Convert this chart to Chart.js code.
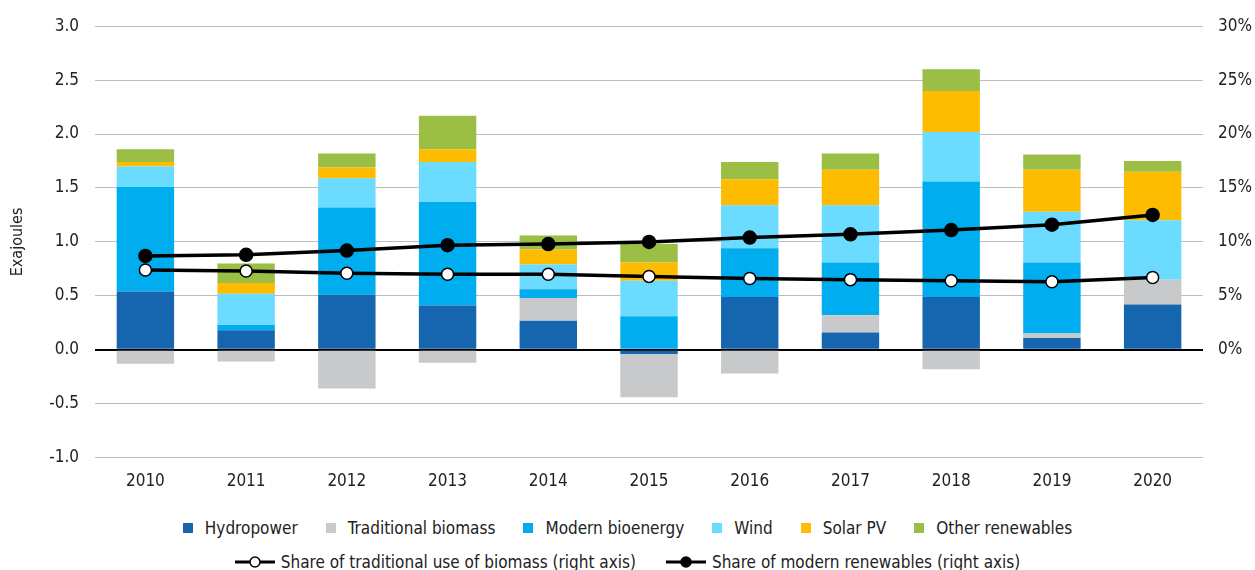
<!DOCTYPE html>
<html>
<head>
<meta charset="utf-8">
<script src="https://cdn.jsdelivr.net/npm/chart.js@4"></script>
<style>
  body { margin: 0; background: #fff; font-family: "DejaVu Sans Condensed", sans-serif; }
  #wrap { position: relative; width: 1255px; height: 570px; }
  #chart { position: absolute; left: 0; top: 0; }
  .legend { position: absolute; left: 0; width: 1255px; display: flex; justify-content: center; align-items: center; font-size: 17px; color: #222; }
  .row1 { top: 518px; gap: 28px; }
  .row2 { top: 552px; gap: 30px; }
  .item { display: flex; align-items: center; white-space: nowrap; }
  .box { width: 10px; height: 10px; margin-right: 12px; }
  .item svg { margin-right: 6px; }
</style>
</head>
<body>
<div id="wrap">
  <canvas id="chart" width="1255" height="506"></canvas>
  <div class="legend row1" id="legendBars"></div>
  <div class="legend row2" id="legendLines"></div>
</div>
<script>
const years = ['2010', '2011', '2012', '2013', '2014', '2015', '2016', '2017', '2018', '2019', '2020'];

// annual change, EJ
const hydropower   = [0.54, 0.18, 0.51, 0.41, 0.27, -0.04, 0.49, 0.16, 0.49, 0.11, 0.42];
const tradBiomass  = [-0.13, -0.11, -0.36, -0.12, 0.21, -0.40, -0.22, 0.16, -0.18, 0.04, 0.23];
const modernBio    = [0.97, 0.05, 0.81, 0.96, 0.08, 0.31, 0.45, 0.49, 1.07, 0.66, -0.01];
const wind         = [0.19, 0.29, 0.27, 0.37, 0.23, 0.33, 0.40, 0.53, 0.46, 0.47, 0.55];
const solarPV      = [0.04, 0.10, 0.10, 0.12, 0.14, 0.17, 0.24, 0.33, 0.38, 0.39, 0.45];
const otherRenew   = [0.12, 0.18, 0.13, 0.31, 0.13, 0.17, 0.16, 0.15, 0.20, 0.14, 0.10];

// shares, %
const shareTraditional = [7.4, 7.3, 7.1, 7.0, 7.0, 6.8, 6.6, 6.5, 6.4, 6.3, 6.7];
const shareModern      = [8.7, 8.8, 9.2, 9.7, 9.8, 10.0, 10.4, 10.7, 11.1, 11.6, 12.5];

const leftTicks = [-1, -0.5, 0, 0.5, 1, 1.5, 2, 2.5, 3];
const rightTicks = [0, 5, 10, 15, 20, 25, 30];

const font = "'DejaVu Sans Condensed', sans-serif";

const barSeries = [
  { label: 'Hydropower', data: hydropower, color: '#1565AF' },
  { label: 'Traditional biomass', data: tradBiomass, color: '#C8C9CB' },
  { label: 'Modern bioenergy', data: modernBio, color: '#00ADEE' },
  { label: 'Wind', data: wind, color: '#6BDBFF' },
  { label: 'Solar PV', data: solarPV, color: '#FDBC00' },
  { label: 'Other renewables', data: otherRenew, color: '#9BBE45' }
];

const datasets = barSeries.map(s => ({
  type: 'bar',
  label: s.label,
  data: s.data,
  backgroundColor: s.color,
  borderWidth: 0,
  yAxisID: 'y',
  stack: 'energy',
  order: 2,
  categoryPercentage: 1,
  barPercentage: 0.57
}));

datasets.push({
  type: 'line',
  label: 'Share of traditional use of biomass (right axis)',
  data: shareTraditional,
  yAxisID: 'y1',
  borderColor: '#000',
  borderWidth: 3.5,
  pointRadius: 6,
  pointBackgroundColor: '#fff',
  pointBorderColor: '#000',
  pointBorderWidth: 1.5,
  tension: 0,
  order: 0
});
datasets.push({
  type: 'line',
  label: 'Share of modern renewables (right axis)',
  data: shareModern,
  yAxisID: 'y1',
  borderColor: '#000',
  borderWidth: 3.5,
  pointRadius: 5.5,
  pointBackgroundColor: '#000',
  pointBorderColor: '#000',
  tension: 0,
  order: 0
});

new Chart(document.getElementById('chart'), {
  data: { labels: years, datasets },
  options: {
    responsive: false,
    animation: false,
    layout: { padding: { top: 18, right: 0, left: 4, bottom: 0 } },
    plugins: { legend: { display: false }, tooltip: { enabled: false } },
    scales: {
      x: {
        stacked: true,
        grid: { display: false, drawTicks: false },
        border: { display: false },
        ticks: { color: '#222', font: { family: font, size: 17 }, padding: 14 }
      },
      y: {
        stacked: true,
        position: 'left',
        min: -1,
        max: 3,
        afterBuildTicks: axis => { axis.ticks = leftTicks.map(v => ({ value: v })); },
        ticks: {
          color: '#222',
          font: { family: font, size: 17 },
          padding: 16,
          callback: v => v.toFixed(1)
        },
        grid: {
          drawTicks: false,
          color: c => c.tick.value === 0 ? '#000' : '#BDBDBD',
          lineWidth: c => c.tick.value === 0 ? 2 : 1
        },
        border: { display: false },
        title: { display: true, text: 'Exajoules', color: '#222', font: { family: font, size: 16 }, padding: { bottom: 6 } }
      },
      y1: {
        position: 'right',
        min: -10,
        max: 30,
        afterBuildTicks: axis => { axis.ticks = rightTicks.map(v => ({ value: v })); },
        afterFit: axis => { axis.width = 52; },
        ticks: {
          color: '#222',
          font: { family: font, size: 17 },
          padding: 15,
          callback: v => v + '%'
        },
        grid: { display: false, drawTicks: false },
        border: { display: false }
      }
    }
  }
});

// legend
const legendBars = document.getElementById('legendBars');
barSeries.forEach(s => {
  const el = document.createElement('div');
  el.className = 'item';
  el.innerHTML = `<span class="box" style="background:${s.color}"></span>${s.label}`;
  legendBars.appendChild(el);
});
const legendLines = document.getElementById('legendLines');
[
  { label: datasets[6].label, fill: '#fff' },
  { label: datasets[7].label, fill: '#000' }
].forEach(s => {
  const el = document.createElement('div');
  el.className = 'item';
  el.innerHTML = `<svg width="40" height="14"><line x1="0" y1="7" x2="40" y2="7" stroke="#000" stroke-width="3"/>` +
    `<circle cx="20" cy="7" r="5" fill="${s.fill}" stroke="#000" stroke-width="1.5"/></svg>${s.label}`;
  legendLines.appendChild(el);
});
</script>
</body>
</html>
